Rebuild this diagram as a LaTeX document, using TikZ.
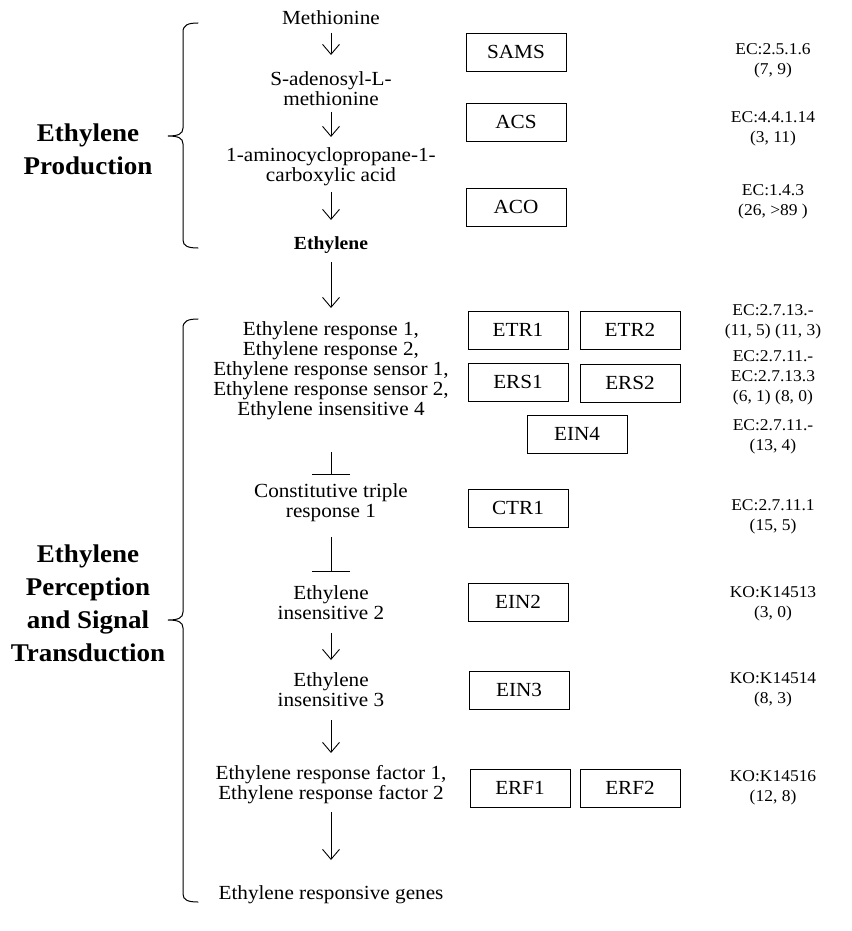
\documentclass[tikz,border=0pt]{standalone}
\usepackage{fontspec}
\setmainfont{Liberation Serif}[FakeStretch=1.06]
\usetikzlibrary{arrows.meta}
\begin{document}
\begin{tikzpicture}[x=1pt,y=-1pt,
  base/.style={inner sep=0pt,align=center,text=black},
  stage/.style={base,font=\fontsize{20}{20}\selectfont},
  title/.style={base,font=\fontsize{25.5}{33}\selectfont\bfseries},
  ec/.style={base,font=\fontsize{16.5}{20}\selectfont},
  enz/.style={draw,line width=0.9pt,minimum width=100pt,minimum height=38pt,inner sep=0pt,font=\fontsize{20}{20}\selectfont},
  arr/.style={line width=0.9pt,-{Straight Barb[length=10pt,width=17pt,line width=0.9pt]}},
  inh/.style={line width=0.9pt,-{Bar[width=38pt,line width=0.9pt]}},
  brace/.style={line width=1pt,line cap=round}]
\useasboundingbox (0,0) rectangle (851,931);

% pathway stages
\node[stage] (met)  at (331,18)  {Methionine};
\node[stage] (sam)  at (331,89)  {S-adenosyl-L-\\methionine};
\node[stage] (acc)  at (331,167) {1-aminocyclopropane-1-\\carboxylic acid};
\node[stage,font=\fontsize{18.5}{20}\selectfont\bfseries] (eth) at (331,245) {Ethylene};
\node[stage] (rec)  at (331,371) {Ethylene response 1,\\Ethylene response 2,\\Ethylene response sensor 1,\\Ethylene response sensor 2,\\Ethylene insensitive 4};
\node[stage] (ctr)  at (331,503) {Constitutive triple\\response 1};
\node[stage] (ein2) at (331,603) {Ethylene\\insensitive 2};
\node[stage] (ein3) at (331,690) {Ethylene\\insensitive 3};
\node[stage] (erf)  at (331,785) {Ethylene response factor 1,\\Ethylene response factor 2};
\node[stage] (gen)  at (331,895) {Ethylene responsive genes};

% connectors
\draw[arr,shorten <=15pt,shorten >=34pt] (met.center) -- (sam.center);
\draw[arr,shorten <=23pt,shorten >=30pt] (sam.center) -- (acc.center);
\draw[arr,shorten <=25pt,shorten >=25pt] (acc.center) -- (eth.center);
\draw[arr,shorten <=17pt,shorten >=63pt] (eth.center) -- (rec.center);
\draw[inh,shorten <=81pt,shorten >=28pt] (rec.center) -- (ctr.center);
\draw[inh,shorten <=34pt,shorten >=31pt] (ctr.center) -- (ein2.center);
\draw[arr,shorten <=30pt,shorten >=30pt] (ein2.center) -- (ein3.center);
\draw[arr,shorten <=30pt,shorten >=32pt] (ein3.center) -- (erf.center);
\draw[arr,shorten <=27pt,shorten >=35pt] (erf.center) -- (gen.center);

% enzymes
\node[enz] (sams) at (516,52)  {SAMS};
\node[enz] (acs)  at (516,122) {ACS};
\node[enz] (aco)  at (516,207) {ACO};
\node[enz] (etr1) at (518,330) {ETR1};
\node[enz] (etr2) at (630,330) {ETR2};
\node[enz] (ers1) at (518,382) {ERS1};
\node[enz] (ers2) at (630,383) {ERS2};
\node[enz] (ein4) at (577,434) {EIN4};
\node[enz] (ctrb) at (518,508) {CTR1};
\node[enz] (ein2b) at (518,602) {EIN2};
\node[enz] (ein3b) at (519,690) {EIN3};
\node[enz] (erf1) at (520,788) {ERF1};
\node[enz] (erf2) at (630,788) {ERF2};

% EC / KO numbers
\node[ec] (ec1)  at (773,61)  {EC:2.5.1.6\\(7, 9)};
\node[ec] (ec2)  at (773,129) {EC:4.4.1.14\\(3, 11)};
\node[ec] (ec3)  at (773,202) {EC:1.4.3\\(26, >89 )};
\node[ec] (ec4)  at (773,322) {EC:2.7.13.-\\(11, 5) (11, 3)};
\node[ec] (ec5)  at (773,378) {EC:2.7.11.-\\EC:2.7.13.3\\(6, 1) (8, 0)};
\node[ec] (ec6)  at (773,437) {EC:2.7.11.-\\(13, 4)};
\node[ec] (ec7)  at (773,517) {EC:2.7.11.1\\(15, 5)};
\node[ec] (ec8)  at (773,604) {KO:K14513\\(3, 0)};
\node[ec] (ec9)  at (773,690) {KO:K14514\\(8, 3)};
\node[ec] (ec10) at (773,788) {KO:K14516\\(12, 8)};

% section titles
\node[title] (t1) at (88,149) {Ethylene\\Production};
\node[title] (t2) at (88,603) {Ethylene\\Perception\\and Signal\\Transduction};

% braces
\draw[brace] (198,23) .. controls (188,23) and (183,25) .. (183,32) -- (183,128)
  .. controls (183,134) and (178,136) .. (168,136)
  .. controls (178,136) and (183,138) .. (183,144) -- (183,240)
  .. controls (183,246) and (188,248) .. (198,248);
\draw[brace] (198,319) .. controls (188,319) and (183,321) .. (183,328) -- (183,612)
  .. controls (183,618) and (178,620) .. (168,620)
  .. controls (178,620) and (183,622) .. (183,628) -- (183,894)
  .. controls (183,900) and (188,902) .. (198,902);
\end{tikzpicture}
\end{document}
